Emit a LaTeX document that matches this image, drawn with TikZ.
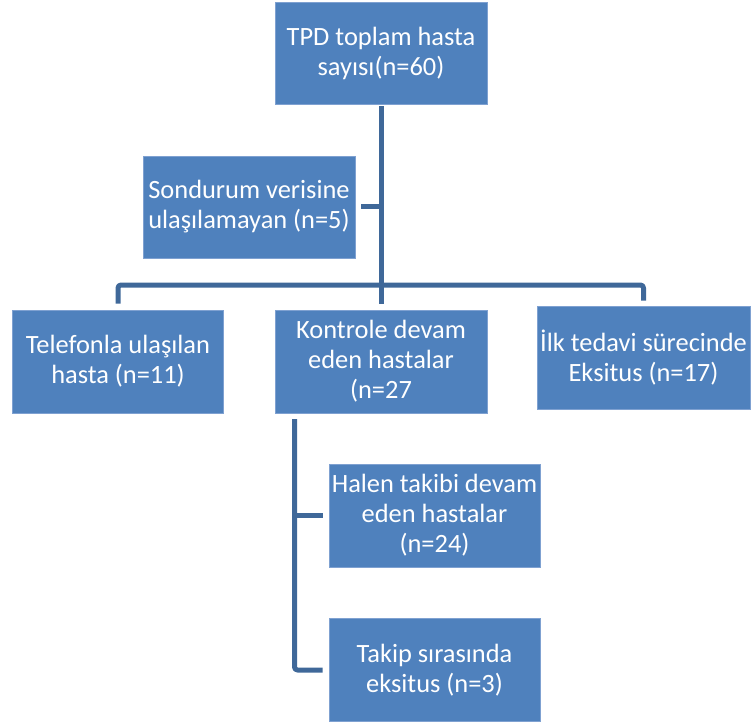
\documentclass[tikz,border=0pt]{standalone}
\usepackage{fontspec}
\setmainfont{Carlito}
\definecolor{boxblue}{HTML}{4F81BD}
\definecolor{boxedge}{HTML}{7FA1D1}
\definecolor{linkblue}{HTML}{3F6899}
\begin{document}
\begin{tikzpicture}[x=1pt,y=-1pt,
  box/.style={fill=boxblue,draw=boxedge,line width=0.8pt,text=white,align=center,
    minimum width=212pt,minimum height=102pt,inner sep=1pt,
    font=\fontsize{26.4}{30}\selectfont},
  conn/.style={draw=linkblue,line width=5pt,line join=round,rounded corners=3pt}]
\useasboundingbox (0,0) rectangle (752,722);
\node[box] (top) at (381,53) {TPD toplam hasta\\sayısı(n=60)};
\node[box] (son) at (249,207) {Sondurum verisine\\ulaşılamayan (n=5)};
\node[box,minimum width=211pt,minimum height=103pt] (tel) at (118,361.5) {Telefonla ulaşılan\\hasta (n=11)};
\node[box,minimum height=103pt] (kon) at (381,361.5) {Kontrole devam\\eden hastalar\\(n=27};
\node[box,minimum width=213pt,minimum height=103pt] (ilk) at (643.5,357.5) {İlk tedavi sürecinde\\Eksitus (n=17)};
\node[box,minimum width=211pt,minimum height=103pt] (hal) at (434.5,515.5) {Halen takibi devam\\eden hastalar\\(n=24)};
\node[box,minimum width=211pt,minimum height=103pt] (tak) at (434.5,670) {Takip sırasında\\eksitus (n=3)};
\coordinate (bar) at (381,285);
\coordinate (spine) at (294.5,419);
\draw[conn] ([yshift=-2pt]top.south) -- ([yshift=6pt]kon.north);
\draw[conn] ([xshift=6pt]son.east) -- (son.east -| top.south);
\draw[conn] ([yshift=6pt]tel.north) |- (bar) -| ([yshift=5pt]ilk.north);
\draw[conn] (spine) |- ([xshift=-6pt]tak.west);
\draw[conn] (spine |- hal.west) -- ([xshift=-6pt]hal.west);
\end{tikzpicture}
\end{document}
